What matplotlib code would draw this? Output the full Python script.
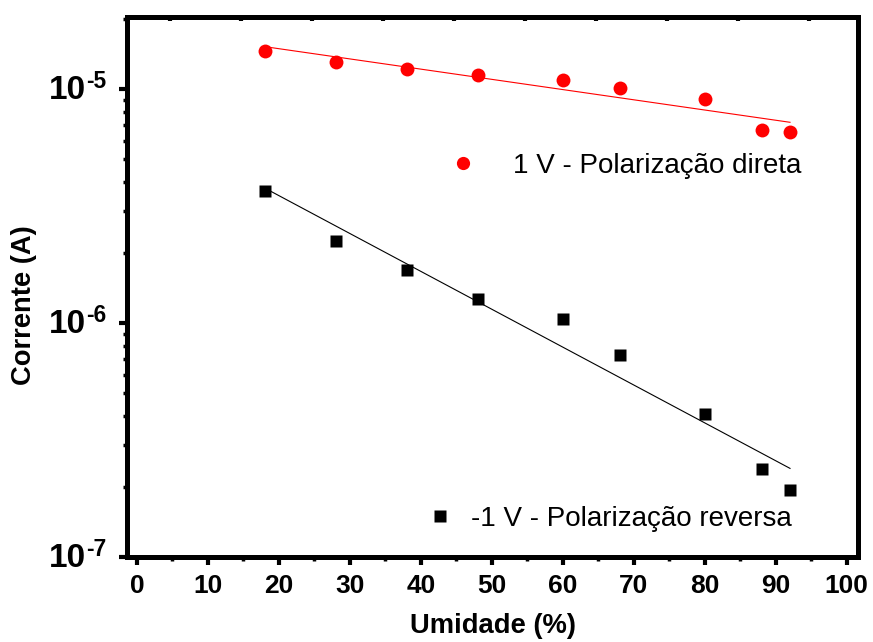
import numpy as np
import matplotlib
matplotlib.use("Agg")
import matplotlib.pyplot as plt
from matplotlib.ticker import FixedLocator, LogLocator, NullFormatter
from matplotlib.lines import Line2D

# Humidity (%) and measured current (A)
umidade = [18, 28, 38, 48, 60, 68, 80, 88, 92]
corrente_direta = [1.455e-5, 1.305e-5, 1.218e-5, 1.148e-5, 1.093e-5, 1.01e-5, 9.06e-6, 6.67e-6, 6.54e-6]
corrente_reversa = [3.65e-6, 2.23e-6, 1.68e-6, 1.26e-6, 1.04e-6, 7.3e-7, 4.1e-7, 2.38e-7, 1.94e-7]

label_direta = "1 V - Polarização direta"
label_reversa = "-1 V - Polarização reversa"
x_ticks = list(range(0, 101, 10))
y_decades = [-7, -6, -5]

plt.rcParams["font.family"] = ["Liberation Sans", "DejaVu Sans"]

fig = plt.figure(figsize=(8.73, 6.42), dpi=100)
ax = fig.add_axes([0.1455, 0.1324, 0.8375, 0.8411])

x = np.array(umidade, dtype=float)

# exponential fits (linear in log10 space)
xf = np.array([x.min(), x.max()])
for vals, color in ((corrente_direta, "red"), (corrente_reversa, "black")):
    p = np.polyfit(x, np.log10(vals), 1)
    ax.plot(xf, 10 ** np.polyval(p, xf), color=color, lw=0.8, zorder=2)

ax.plot(x, corrente_direta, "o", color="red", ms=10, mec="none", zorder=3)
ax.plot(x, corrente_reversa, "s", color="black", ms=8.3, mec="none", zorder=3)

ax.set_yscale("log")
ax.set_xlim(-1.4, 101.6)
ax.set_ylim(1e-7, 2.03e-5)

for s in ax.spines.values():
    s.set_linewidth(3.6)

ax.xaxis.set_major_locator(FixedLocator(x_ticks))
ax.xaxis.set_minor_locator(FixedLocator([t + 5 for t in x_ticks[:-1]]))
ax.tick_params(axis="x", which="major", direction="out", length=6, width=3,
               labelsize=19, pad=6)
ax.tick_params(axis="x", which="minor", direction="out", length=3, width=2.5)
for lab in ax.get_xticklabels():
    lab.set_fontweight("bold")

ax.yaxis.set_major_locator(FixedLocator([10.0 ** d for d in y_decades]))
ax.yaxis.set_minor_locator(LogLocator(base=10, subs=np.arange(2, 10), numticks=20))
ax.yaxis.set_minor_formatter(NullFormatter())
ax.yaxis.set_major_formatter(NullFormatter())
ax.tick_params(axis="y", which="major", direction="out", length=6, width=3)
ax.tick_params(axis="y", which="minor", direction="out", length=3, width=2.5)

# decade labels: base and hyphen exponent drawn as separate texts
for d in y_decades:
    ax.annotate("10", xy=(0, 10.0 ** d), xycoords=("axes fraction", "data"),
                xytext=(-29.5, -7.5), textcoords="offset points",
                ha="right", va="baseline", fontsize=24, fontweight="bold",
                annotation_clip=False)
    ax.annotate(str(d), xy=(0, 10.0 ** d), xycoords=("axes fraction", "data"),
                xytext=(-29.5, 0.5), textcoords="offset points",
                ha="left", va="baseline", fontsize=16.5, fontweight="bold",
                annotation_clip=False)

# top axis with inward ticks, no labels
top = ax.secondary_xaxis("top")
top.xaxis.set_major_locator(FixedLocator([t + 4.7 for t in x_ticks[:-1]]))
top.xaxis.set_minor_locator(FixedLocator(x_ticks))
top.tick_params(which="major", direction="in", length=3, width=3, labelsize=0, labeltop=False)
top.tick_params(which="minor", direction="in", length=2, width=1.5)
top.spines["top"].set_linewidth(3.6)

ax.set_xlabel("Umidade (%)", fontsize=19.7, fontweight="bold", labelpad=11)
ax.set_ylabel("Corrente (A)", fontsize=19.7, fontweight="bold")
ax.yaxis.set_label_coords(-0.123, 0.467)

leg1 = ax.legend([Line2D([], [], ls="none", marker="o", color="red", ms=9.5, mec="none")],
                 [label_direta], loc="center left", bbox_to_anchor=(0.422, 0.725),
                 frameon=False, fontsize=20, handletextpad=1.2, handlelength=1.2,
                 borderaxespad=0)
ax.add_artist(leg1)
ax.legend([Line2D([], [], ls="none", marker="s", color="black", ms=8, mec="none")],
          [label_reversa], loc="center left", bbox_to_anchor=(0.3906, 0.07),
          frameon=False, fontsize=20, handletextpad=0.49, handlelength=1.2,
          borderaxespad=0)

fig.savefig("out.png", dpi=100)
